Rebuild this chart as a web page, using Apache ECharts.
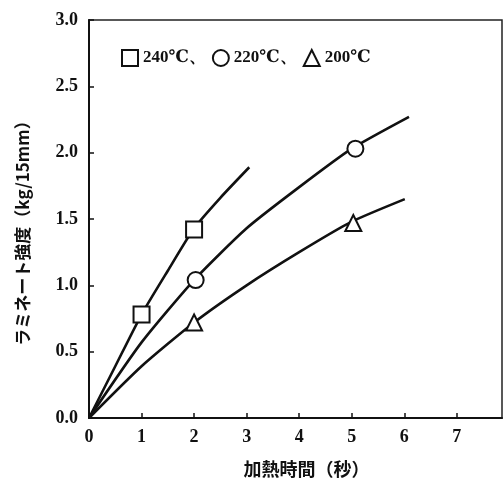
<!DOCTYPE html>
<html><head><meta charset="utf-8">
<script src="https://cdn.jsdelivr.net/npm/echarts@6/dist/echarts.min.js"></script>
<style>html,body{margin:0;padding:0;background:#fff}#c{width:503px;height:483px}</style>
</head><body><div id="c"></div>
<script>
// Curves (smooth fitted lines)
const curve240X = [0, 0.5, 1, 1.5, 2, 2.5, 3.05];
const curve240Y = [0, 0.39, 0.78, 1.11, 1.43, 1.66, 1.89];
const curve220X = [0, 1, 2, 3, 4, 5, 6.09];
const curve220Y = [0, 0.57, 1.04, 1.43, 1.74, 2.03, 2.27];
const curve200X = [0, 1, 2, 3, 4, 5, 6.01];
const curve200Y = [0, 0.39, 0.72, 1.0, 1.25, 1.48, 1.65];
// Measured points
const pts240X = [1, 2];    const pts240Y = [0.78, 1.42];
const pts220X = [2.03, 5.07]; const pts220Y = [1.04, 2.03];
const pts200X = [2.0, 5.03];  const pts200Y = [0.72, 1.47];
const seriesNames = ['240℃', '220℃', '200℃'];
const xTitle = '加熱時間（秒）';
const yTitle = 'ラミネート強度（kg/15mm）';

const zip = (a, b) => a.map((v, i) => [v, b[i]]);
const serif = '"Liberation Serif","DejaVu Serif",serif';
const chart = echarts.init(document.getElementById('c'));
const lineS = (x, y) => ({type: 'line', data: zip(x, y), smooth: 0.2, showSymbol: false,
  lineStyle: {color: '#111', width: 2.6}, z: 2, silent: true});
const ptS = (name, sym, size, x, y) => ({type: 'scatter', name, symbol: sym, symbolSize: size,
  data: zip(x, y), itemStyle: {color: '#fff', borderColor: '#111', borderWidth: 2, opacity: 1}, z: 5});
chart.setOption({
  animation: false,
  backgroundColor: '#fff',
  grid: {left: 89, top: 20, right: 1, bottom: 62, show: true, borderColor: '#222', borderWidth: 1.5},
  legend: {
    left: 116, top: 44, itemWidth: 16, itemHeight: 16, itemGap: 6,
    data: [{name: seriesNames[0], icon: 'rect'}, {name: seriesNames[1], icon: 'circle'}, {name: seriesNames[2], icon: 'triangle'}],
    formatter: n => n === seriesNames[2] ? n : n + '、',
    textStyle: {fontFamily: serif, fontSize: 17, fontWeight: 'bold', color: '#111'},
    selectedMode: false
  },
  xAxis: {
    type: 'value', min: 0, max: 7.86, interval: 1,
    name: xTitle, nameLocation: 'middle', nameGap: 42,
    nameTextStyle: {fontFamily: '"Noto Sans CJK JP"', fontSize: 18, fontWeight: 'bold', color: '#111', padding: [0, 0, 0, 22]},
    axisLine: {lineStyle: {color: '#111', width: 2}},
    axisTick: {inside: true, length: 5, lineStyle: {color: '#111', width: 1.5}},
    axisLabel: {fontFamily: serif, fontSize: 18, fontWeight: 'bold', color: '#111', margin: 10,
      showMaxLabel: false, formatter: v => Number.isInteger(v) ? String(v) : ''},
    splitLine: {show: false}
  },
  yAxis: {
    type: 'value', min: 0, max: 3, interval: 0.5,
    name: yTitle, nameLocation: 'middle', nameGap: 58,
    nameTextStyle: {fontFamily: '"Noto Sans CJK JP"', fontSize: 17, fontWeight: 'bold', color: '#111', padding: [0, 20, 0, 0]},
    axisLine: {show: true, lineStyle: {color: '#111', width: 2}},
    axisTick: {show: true, inside: true, length: 5, lineStyle: {color: '#111', width: 1.5}},
    axisLabel: {fontFamily: serif, fontSize: 18, fontWeight: 'bold', color: '#111', margin: 11,
      formatter: v => v.toFixed(1)},
    splitLine: {show: false}
  },
  series: [
    lineS(curve240X, curve240Y), lineS(curve220X, curve220Y), lineS(curve200X, curve200Y),
    ptS(seriesNames[0], 'rect', 16, pts240X, pts240Y),
    ptS(seriesNames[1], 'circle', 16, pts220X, pts220Y),
    ptS(seriesNames[2], 'triangle', 16, pts200X, pts200Y)
  ]
});
</script></body></html>
